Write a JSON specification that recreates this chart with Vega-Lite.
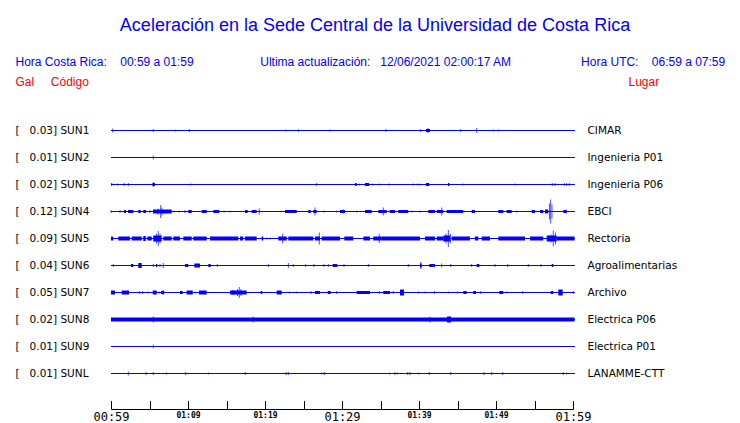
{
  "$schema": "https://vega.github.io/schema/vega-lite/v6.json",
  "autosize": {"type": "none"},
  "width": 462,
  "height": 270,
  "padding": {"left": 111, "top": 117, "right": 167, "bottom": 36},
  "background": "white",
  "title": {
    "text": "Aceleración en la Sede Central de la Universidad de Costa Rica",
    "anchor": "middle",
    "frame": "group",
    "dx": 33,
    "offset": 20,
    "font": "Liberation Sans",
    "fontSize": 18,
    "fontWeight": "normal",
    "color": "#0000ff"
  },
  "datasets": {
    "stations": [
      {"n": 1, "gal": 0.03, "etiqueta": "[\u00a0\u00a0\u00a00.03] SUN1", "lugar": "CIMAR"},
      {"n": 2, "gal": 0.01, "etiqueta": "[\u00a0\u00a0\u00a00.01] SUN2", "lugar": "Ingenieria P01"},
      {"n": 3, "gal": 0.02, "etiqueta": "[\u00a0\u00a0\u00a00.02] SUN3", "lugar": "Ingenieria P06"},
      {"n": 4, "gal": 0.12, "etiqueta": "[\u00a0\u00a0\u00a00.12] SUN4", "lugar": "EBCI"},
      {"n": 5, "gal": 0.09, "etiqueta": "[\u00a0\u00a0\u00a00.09] SUN5", "lugar": "Rectoria"},
      {"n": 6, "gal": 0.04, "etiqueta": "[\u00a0\u00a0\u00a00.04] SUN6", "lugar": "Agroalimentarias"},
      {"n": 7, "gal": 0.05, "etiqueta": "[\u00a0\u00a0\u00a00.05] SUN7", "lugar": "Archivo"},
      {"n": 8, "gal": 0.02, "etiqueta": "[\u00a0\u00a0\u00a00.02] SUN8", "lugar": "Electrica P06"},
      {"n": 9, "gal": 0.01, "etiqueta": "[\u00a0\u00a0\u00a00.01] SUN9", "lugar": "Electrica P01"},
      {"n": 10, "gal": 0.01, "etiqueta": "[\u00a0\u00a0\u00a00.01] SUNL", "lugar": "LANAMME-CTT"}
    ],
    "eventos": [
      {"n":1,"t":0.22,"a":4},{"n":1,"t":5.49,"a":3},{"n":1,"t":8.4,"a":2},{"n":1,"t":10.17,"a":3},{"n":1,"t":22.73,"a":2},{"n":1,"t":24.32,"a":3},{"n":1,"t":28.44,"a":2},{"n":1,"t":35.71,"a":3},{"n":1,"t":40.22,"a":3},{"n":1,"t":41.17,"a":5},{"n":1,"t":45.42,"a":3},{"n":1,"t":47.49,"a":5},{"n":1,"t":49.65,"a":2},{"n":1,"t":50.35,"a":2},
      {"n":1,"t":40.9,"t2":41.43,"a":3},
      {"n":2,"t":5.49,"a":4},
      {"n":3,"t":0.06,"a":3},{"n":3,"t":0.3,"a":2},{"n":3,"t":0.82,"a":2},{"n":3,"t":1.73,"a":3},{"n":3,"t":2.25,"a":3},{"n":3,"t":5.49,"a":5},{"n":3,"t":10.35,"a":2},{"n":3,"t":26.71,"a":3},{"n":3,"t":32.25,"a":2},{"n":3,"t":33.99,"a":2},{"n":3,"t":34.84,"a":2},{"n":3,"t":36.14,"a":2},{"n":3,"t":39.26,"a":2},{"n":3,"t":39.78,"a":2},{"n":3,"t":40.13,"a":2},{"n":3,"t":45.68,"a":2},{"n":3,"t":52.47,"a":2},{"n":3,"t":57.31,"a":3},{"n":3,"t":57.66,"a":3},{"n":3,"t":58.87,"a":3},{"n":3,"t":59.18,"a":3},{"n":3,"t":59.52,"a":3},
      {"n":3,"t":5.39,"t2":5.71,"a":3},{"n":3,"t":31.69,"t2":31.91,"a":3},{"n":3,"t":32.99,"t2":33.55,"a":3},{"n":3,"t":40.91,"t2":41.34,"a":3},{"n":3,"t":43.77,"t2":43.96,"a":3},
      {"n":4,"t":1.69,"t2":1.95,"a":3},{"n":4,"t":2.21,"t2":2.9,"a":3},{"n":4,"t":3.55,"t2":3.86,"a":3},{"n":4,"t":4.19,"t2":4.55,"a":3},{"n":4,"t":5.45,"t2":7.88,"a":4},{"n":4,"t":10.04,"t2":10.48,"a":3},{"n":4,"t":11.78,"t2":12.43,"a":3},{"n":4,"t":13.29,"t2":14.06,"a":3},{"n":4,"t":17.4,"t2":17.75,"a":3},{"n":4,"t":18.27,"t2":18.92,"a":3},{"n":4,"t":22.6,"t2":24.12,"a":3},{"n":4,"t":25.62,"t2":25.94,"a":3},{"n":4,"t":26.27,"t2":26.71,"a":3},{"n":4,"t":29.74,"t2":30.39,"a":3},{"n":4,"t":32.99,"t2":33.86,"a":3},{"n":4,"t":34.71,"t2":35.81,"a":3},{"n":4,"t":36.2,"t2":36.9,"a":3},{"n":4,"t":37.3,"t2":38.61,"a":3},{"n":4,"t":41.21,"t2":42.08,"a":3},{"n":4,"t":42.3,"t2":43.16,"a":3},{"n":4,"t":43.6,"t2":45.75,"a":3},{"n":4,"t":46.84,"t2":47.27,"a":3},{"n":4,"t":50.3,"t2":50.95,"a":3},{"n":4,"t":51.39,"t2":52.04,"a":3},{"n":4,"t":54.64,"t2":55.06,"a":3},{"n":4,"t":55.71,"t2":56.14,"a":3},{"n":4,"t":56.36,"t2":56.79,"a":4},{"n":4,"t":58.74,"t2":59.18,"a":3},
      {"n":4,"t":0,"a":3},{"n":4,"t":1.17,"a":3},{"n":4,"t":5.06,"a":3},{"n":4,"t":6.1,"a":6},{"n":4,"t":6.45,"a":13},{"n":4,"t":6.62,"a":8},{"n":4,"t":8.18,"a":2},{"n":4,"t":8.87,"a":2},{"n":4,"t":9.61,"a":3},{"n":4,"t":14.68,"a":2},{"n":4,"t":15.45,"a":2},{"n":4,"t":19.26,"a":6},{"n":4,"t":26.49,"a":8},{"n":4,"t":27.66,"a":2},{"n":4,"t":29.31,"a":2},{"n":4,"t":30.17,"a":4},{"n":4,"t":31.91,"a":2},{"n":4,"t":35.36,"a":8},{"n":4,"t":39.05,"a":2},{"n":4,"t":40.13,"a":2},{"n":4,"t":42.95,"a":8},{"n":4,"t":52.69,"a":2},{"n":4,"t":56.95,"a":16},{"n":4,"t":57.1,"a":24},{"n":4,"t":57.27,"a":14},{"n":4,"t":59.09,"a":4},
      {"n":5,"t":0,"t2":0.3,"a":4},{"n":5,"t":0.95,"t2":2.47,"a":4},{"n":5,"t":2.69,"t2":3.99,"a":4},{"n":5,"t":4.19,"t2":4.51,"a":5},{"n":5,"t":4.71,"t2":5.29,"a":4},{"n":5,"t":5.49,"t2":6.58,"a":6},{"n":5,"t":6.79,"t2":7.88,"a":4},{"n":5,"t":8.09,"t2":8.96,"a":4},{"n":5,"t":9.39,"t2":10.48,"a":4},{"n":5,"t":10.69,"t2":12.43,"a":4},{"n":5,"t":12.86,"t2":16.53,"a":4},{"n":5,"t":16.75,"t2":17.18,"a":4},{"n":5,"t":17.4,"t2":18.92,"a":4},{"n":5,"t":19.57,"t2":19.78,"a":4},{"n":5,"t":21.73,"t2":22.82,"a":4},{"n":5,"t":23.03,"t2":26.27,"a":4},{"n":5,"t":26.49,"t2":27.14,"a":4},{"n":5,"t":27.36,"t2":29.74,"a":4},{"n":5,"t":30.3,"t2":31.47,"a":4},{"n":5,"t":32.77,"t2":33.64,"a":4},{"n":5,"t":34.06,"t2":35.16,"a":4},{"n":5,"t":35.16,"t2":40.13,"a":4},{"n":5,"t":40.78,"t2":42.08,"a":4},{"n":5,"t":42.3,"t2":43.16,"a":4},{"n":5,"t":43.16,"t2":44.03,"a":6},{"n":5,"t":44.25,"t2":46.62,"a":4},{"n":5,"t":47.27,"t2":47.7,"a":4},{"n":5,"t":48.14,"t2":49.22,"a":4},{"n":5,"t":50.3,"t2":53.77,"a":4},{"n":5,"t":54.42,"t2":56.14,"a":4},{"n":5,"t":56.58,"t2":57.88,"a":6},{"n":5,"t":57.88,"t2":60.2,"a":4},
      {"n":5,"t":5.91,"a":10},{"n":5,"t":6.14,"a":15},{"n":5,"t":6.36,"a":10},{"n":5,"t":20.22,"a":2},{"n":5,"t":20.65,"a":2},{"n":5,"t":22.3,"a":10},{"n":5,"t":27.05,"a":12},{"n":5,"t":34.84,"a":9},{"n":5,"t":43.51,"a":10},{"n":5,"t":43.81,"a":17},{"n":5,"t":44.09,"a":9},{"n":5,"t":57.14,"a":8},{"n":5,"t":57.44,"a":16},{"n":5,"t":57.73,"a":12},
      {"n":6,"t":0.3,"a":3},{"n":6,"t":5.49,"a":3},{"n":6,"t":6.36,"a":3},{"n":6,"t":6.79,"a":5},{"n":6,"t":13.81,"a":3},{"n":6,"t":20.43,"a":3},{"n":6,"t":23.03,"a":5},{"n":6,"t":23.68,"a":3},{"n":6,"t":25.29,"a":3},{"n":6,"t":26.36,"a":3},{"n":6,"t":27.66,"a":3},{"n":6,"t":28.22,"a":3},{"n":6,"t":30.26,"a":3},{"n":6,"t":33.42,"a":3},{"n":6,"t":38.61,"a":3},{"n":6,"t":40.23,"a":7},{"n":6,"t":42.95,"a":4},{"n":6,"t":44.12,"a":3},{"n":6,"t":46.84,"a":3},{"n":6,"t":49.87,"a":3},{"n":6,"t":51.52,"a":3},{"n":6,"t":54.19,"a":3},{"n":6,"t":55.84,"a":3},
      {"n":6,"t":2.6,"t2":2.9,"a":3},{"n":6,"t":3.55,"t2":3.99,"a":5},{"n":6,"t":5.84,"t2":6.01,"a":3},{"n":6,"t":9.61,"t2":10.04,"a":3},{"n":6,"t":10.82,"t2":11.56,"a":4},{"n":6,"t":12.64,"t2":12.95,"a":3},{"n":6,"t":28.79,"t2":29.39,"a":3},{"n":6,"t":40.13,"t2":40.35,"a":4},{"n":6,"t":41.34,"t2":42.08,"a":3},{"n":6,"t":47.49,"t2":47.83,"a":3},{"n":6,"t":57.23,"t2":57.44,"a":3},
      {"n":7,"t":0,"t2":0.52,"a":4},{"n":7,"t":1.39,"t2":2.34,"a":4},{"n":7,"t":5.42,"t2":5.94,"a":4},{"n":7,"t":6.49,"t2":6.92,"a":3},{"n":7,"t":8.96,"t2":9.31,"a":3},{"n":7,"t":9.83,"t2":10.61,"a":4},{"n":7,"t":11.43,"t2":12.43,"a":4},{"n":7,"t":15.45,"t2":17.62,"a":4},{"n":7,"t":19.44,"t2":19.65,"a":3},{"n":7,"t":21.52,"t2":22.17,"a":4},{"n":7,"t":26.49,"t2":27.14,"a":3},{"n":7,"t":28.14,"t2":28.53,"a":3},{"n":7,"t":31.91,"t2":33.64,"a":3},{"n":7,"t":35.36,"t2":36.23,"a":3},{"n":7,"t":37.53,"t2":38.05,"a":6},{"n":7,"t":45.75,"t2":46.19,"a":3},{"n":7,"t":47.05,"t2":47.4,"a":3},{"n":7,"t":50.43,"t2":50.95,"a":3},{"n":7,"t":57.1,"t2":57.44,"a":3},{"n":7,"t":58.09,"t2":58.66,"a":6},
      {"n":7,"t":3.68,"a":3},{"n":7,"t":4.12,"a":3},{"n":7,"t":4.77,"a":2},{"n":7,"t":6.27,"a":2},{"n":7,"t":6.79,"a":5},{"n":7,"t":10.91,"a":2},{"n":7,"t":15.81,"a":5},{"n":7,"t":15.97,"a":5},{"n":7,"t":16.43,"a":7},{"n":7,"t":16.66,"a":11},{"n":7,"t":16.88,"a":7},{"n":7,"t":23.16,"a":2},{"n":7,"t":24.12,"a":2},{"n":7,"t":25.97,"a":3},{"n":7,"t":29.31,"a":3},{"n":7,"t":34.84,"a":3},{"n":7,"t":36.66,"a":3},{"n":7,"t":39.91,"a":2},{"n":7,"t":40.78,"a":2},{"n":7,"t":41.99,"a":3},{"n":7,"t":43.81,"a":2},{"n":7,"t":44.97,"a":2},{"n":7,"t":48.01,"a":3},{"n":7,"t":51.39,"a":2},{"n":7,"t":53.47,"a":3},{"n":7,"t":60.04,"a":3},
      {"n":8,"t":0,"t2":60.2,"a":4},{"n":8,"t":43.64,"t2":44.16,"a":6},
      {"n":8,"t":5.49,"a":6},{"n":8,"t":18.48,"a":6},{"n":8,"t":41.43,"a":6},
      {"n":9,"t":5.49,"a":4},
      {"n":10,"t":2.25,"a":4},{"n":10,"t":4.55,"a":3},{"n":10,"t":5.49,"a":3},{"n":10,"t":7.23,"a":2},{"n":10,"t":9.7,"a":3},{"n":10,"t":12.64,"a":2},{"n":10,"t":17.44,"a":3},{"n":10,"t":22.73,"a":3},{"n":10,"t":23.03,"a":3},{"n":10,"t":27.36,"a":2},{"n":10,"t":27.7,"a":3},{"n":10,"t":36.14,"a":2},{"n":10,"t":36.88,"a":3},{"n":10,"t":37.23,"a":2},{"n":10,"t":38.53,"a":3},{"n":10,"t":38.83,"a":3},{"n":10,"t":39.91,"a":2},{"n":10,"t":41.34,"a":3},{"n":10,"t":44.12,"a":3},{"n":10,"t":48.44,"a":3},{"n":10,"t":49.44,"a":3},{"n":10,"t":50.87,"a":3},{"n":10,"t":58.74,"a":3},{"n":10,"t":59.18,"a":2}
    ]
  },
  "resolve": {"scale": {"y": "independent"}, "axis": {"x": "independent", "y": "independent"}},
  "layer": [
    {
      "data": {"name": "stations"},
      "mark": {"type": "rule", "color": "#0000ff", "strokeWidth": 1},
      "encoding": {
        "y": {
          "field": "lugar", "type": "nominal", "sort": null,
          "scale": {"type": "band", "paddingInner": 0, "paddingOuter": 0},
          "axis": {
            "orient": "right", "domain": false, "ticks": false, "tickSize": 0, "labelPadding": 14,
            "labelFont": "DejaVu Sans", "labelFontSize": 10.5, "labelColor": "#000000", "labelAlign": "left",
            "title": "Lugar", "titleAngle": 0, "titleX": 55, "titleY": -36, "titleAlign": "left", "titleBaseline": "middle",
            "titleFont": "Liberation Sans", "titleFontSize": 12, "titleFontWeight": "normal", "titleColor": "#ff0000"
          }
        },
        "x": {
          "datum": 0, "type": "quantitative",
          "scale": {"domain": [0, 60], "nice": false, "zero": false},
          "axis": {
            "orient": "top", "domain": false, "ticks": false, "labels": false, "grid": false,
            "title": "Hora Costa Rica:\u00a0\u00a0\u00a0\u00a000:59 a 01:59\u00a0\u00a0\u00a0\u00a0\u00a0\u00a0\u00a0\u00a0\u00a0\u00a0\u00a0\u00a0\u00a0\u00a0\u00a0\u00a0\u00a0\u00a0\u00a0\u00a0Ultima actualización:\u00a0\u00a0\u00a012/06/2021 02:00:17 AM\u00a0\u00a0\u00a0\u00a0\u00a0\u00a0\u00a0\u00a0\u00a0\u00a0\u00a0\u00a0\u00a0\u00a0\u00a0\u00a0\u00a0\u00a0\u00a0\u00a0\u00a0Hora UTC:\u00a0\u00a0\u00a0\u00a006:59 a 07:59",
            "titleX": -96, "titleY": -56, "titleAlign": "left", "titleAnchor": "start", "titleBaseline": "middle", "titleAngle": 0,
            "titleFont": "Liberation Sans", "titleFontSize": 12, "titleFontWeight": "normal", "titleColor": "#0000ff", "titleLimit": 0
          }
        },
        "x2": {"datum": 60.25}
      }
    },
    {
      "data": {"name": "eventos"},
      "transform": [
        {"lookup": "n", "from": {"data": {"name": "stations"}, "key": "n", "fields": ["etiqueta"]}}
      ],
      "encoding": {
        "x": {
          "field": "t", "type": "quantitative",
          "scale": {"domain": [0, 60], "nice": false, "zero": false},
          "axis": {
            "orient": "bottom", "offset": 22, "values": [0, 5, 10, 15, 20, 25, 30, 35, 40, 45, 50, 55, 60],
            "labelExpr": "datum.value % 10 == 0 ? timeFormat(datetime(2021, 11, 6, 0, 59 + datum.value), '%H:%M') : ''",
            "labelOverlap": false, "labelFlush": false, "labelBound": false,
            "tickSize": -8.5, "tickColor": "#000000", "tickWidth": 1,
            "domainColor": "#000000", "domainWidth": 1, "grid": false,
            "labelFont": "DejaVu Sans Mono",
            "labelFontSize": {"condition": {"test": "datum.value % 30 == 0", "value": 12}, "value": 8},
            "labelFontWeight": {"condition": {"test": "datum.value % 30 == 0", "value": "normal"}, "value": "bold"},
            "labelColor": "#000000", "labelBaseline": "top", "labelPadding": 11,
            "title": null
          }
        },
        "y": {
          "field": "etiqueta", "type": "nominal", "sort": {"field": "n", "op": "min"},
          "scale": {"type": "band", "paddingInner": 0, "paddingOuter": 0},
          "axis": {
            "orient": "left", "domain": false, "ticks": false, "tickSize": 0, "labelAlign": "left", "labelPadding": 96,
            "labelFont": "DejaVu Sans", "labelFontSize": 10.5, "labelColor": "#000000",
            "title": "Gal\u00a0\u00a0\u00a0\u00a0\u00a0Código", "titleAngle": 0, "titleX": -96, "titleY": -36, "titleAlign": "left", "titleBaseline": "middle",
            "titleFont": "Liberation Sans", "titleFontSize": 12, "titleFontWeight": "normal", "titleColor": "#ff0000"
          }
        },
        "size": {"field": "a", "type": "quantitative", "scale": {"type": "linear", "domain": [0, 30], "range": [0, 30]}, "legend": null},
        "color": {"value": "#0000ff"}
      },
      "layer": [
        {"transform": [{"filter": "!isValid(datum.t2)"}], "mark": {"type": "tick", "thickness": 1, "orient": "vertical"}},
        {"transform": [{"filter": "isValid(datum.t2)"}], "mark": {"type": "bar"}, "encoding": {"x2": {"field": "t2"}}}
      ]
    }
  ],
  "config": {"view": {"stroke": null}, "axis": {"grid": false}}
}
